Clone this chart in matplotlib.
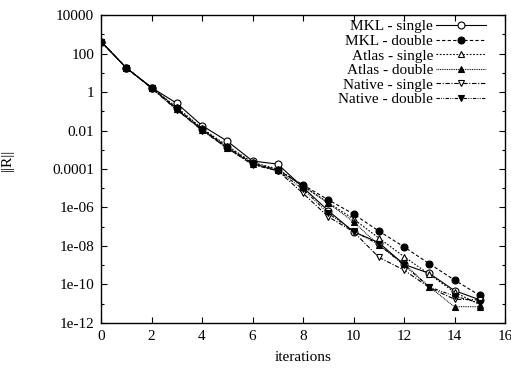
import matplotlib
matplotlib.use("Agg")
import matplotlib.pyplot as plt
from matplotlib.ticker import FixedLocator, NullFormatter

iterations = list(range(16))
mkl_single = [4.2e2, 1.8e1, 1.7, 2.6e-1, 1.8e-2, 2.8e-3, 2.6e-4, 1.8e-4, 1.1e-5, 6.8e-7, 5.5e-8, 1.5e-8, 1.1e-9, 3.8e-10, 4.8e-11, 1.6e-11]
mkl_double = [4.2e2, 1.8e1, 1.7, 1.4e-1, 1.2e-2, 1.4e-3, 2.0e-4, 8.9e-5, 1.5e-5, 2.5e-6, 4.6e-7, 6.0e-8, 9.0e-9, 1.2e-9, 1.7e-10, 2.7e-11]
atlas_single = [4.2e2, 1.8e1, 1.7, 1.6e-1, 1.3e-2, 1.6e-3, 2.2e-4, 1.0e-4, 1.3e-5, 1.8e-6, 2.5e-7, 2.6e-8, 2.8e-9, 3.4e-10, 4.0e-11, 9e-12]
atlas_double = [4.2e2, 1.8e1, 1.7, 1.3e-1, 1.1e-2, 1.3e-3, 1.9e-4, 8.5e-5, 1.3e-5, 1.7e-6, 1.8e-7, 1.1e-8, 1.2e-9, 7.5e-11, 7e-12, 7e-12]
native_single = [4.2e2, 1.8e1, 1.6, 1.2e-1, 1.1e-2, 1.2e-3, 1.7e-4, 8e-5, 5.5e-6, 3.3e-7, 5.5e-8, 2.6e-9, 5.6e-10, 7.0e-11, 1.7e-11, 1.6e-11]
native_double = [4.2e2, 1.8e1, 1.6, 1.2e-1, 1.0e-2, 1.2e-3, 1.8e-4, 8.2e-5, 9e-6, 5e-7, 6e-8, 1.2e-8, 1.0e-9, 7.5e-11, 2.5e-11, 1.1e-11]

labels = ["MKL - single", "MKL - double", "Atlas - single", "Atlas - double",
          "Native - single", "Native - double"]
series = [mkl_single, mkl_double, atlas_single, atlas_double, native_single, native_double]

ytick_vals = [1e4, 1e2, 1, 1e-2, 1e-4, 1e-6, 1e-8, 1e-10, 1e-12]
ytick_labels = ["10000", "100", "1", "0.01", "0.0001", "1e-06", "1e-08", "1e-10", "1e-12"]
yminor_vals = [1e3, 1e1, 1e-1, 1e-3, 1e-5, 1e-7, 1e-9, 1e-11]
xtick_vals = [0, 2, 4, 6, 8, 10, 12, 14, 16]

plt.rcParams['font.family'] = ['Liberation Serif', 'DejaVu Serif']
plt.rcParams['font.size'] = 11

fig = plt.figure(figsize=(5.11, 3.69), dpi=100)
ax = fig.add_axes([0.1977, 0.1247, 0.7906, 0.8346])

styles = [
    dict(ls='-', marker='o', mfc='white'),
    dict(ls=(0, (3, 2)), marker='o', mfc='black'),
    dict(ls=(0, (1.5, 1.5)), marker='^', mfc='white'),
    dict(ls=(0, (0.8, 0.8)), marker='^', mfc='black'),
    dict(ls=(0, (4, 1.5, 1, 1.5)), marker='v', mfc='white'),
    dict(ls=(0, (3, 1.2, 0.8, 1.2, 0.8, 1.2)), marker='v', mfc='black'),
]

for vals, lab, st in zip(series, labels, styles):
    ax.plot(iterations, vals, color='black', lw=0.8, ls=st['ls'], marker=st['marker'],
            mfc=st['mfc'], mec='black', mew=0.8, ms=5, label=lab)

ax.set_yscale('log')
ax.set_ylim(1e-12, 1e4)
ax.set_xlim(0, 16)
ax.yaxis.set_major_locator(FixedLocator(ytick_vals))
ax.set_yticklabels(ytick_labels)
ax.yaxis.set_minor_locator(FixedLocator(yminor_vals))
ax.yaxis.set_minor_formatter(NullFormatter())
ax.set_xticks(xtick_vals)
ax.tick_params(which='both', direction='in', top=True, right=True, width=0.8)
ax.tick_params(which='major', length=4, pad=5)
ax.tick_params(which='minor', length=2.5)
for s in ax.spines.values():
    s.set_linewidth(1.0)

ax.set_xlabel("iterations", labelpad=6)
ax.set_ylabel("||R||")
ax.yaxis.set_label_coords(-0.215, 0.53)

leg = ax.legend(loc='upper right', bbox_to_anchor=(1 - 14 / 404, 1.0), frameon=False,
                markerfirst=False, handlelength=3.3, labelspacing=0.06,
                handletextpad=0.2, borderaxespad=0.1, borderpad=0.2)

fig.savefig("out.png", dpi=100)
